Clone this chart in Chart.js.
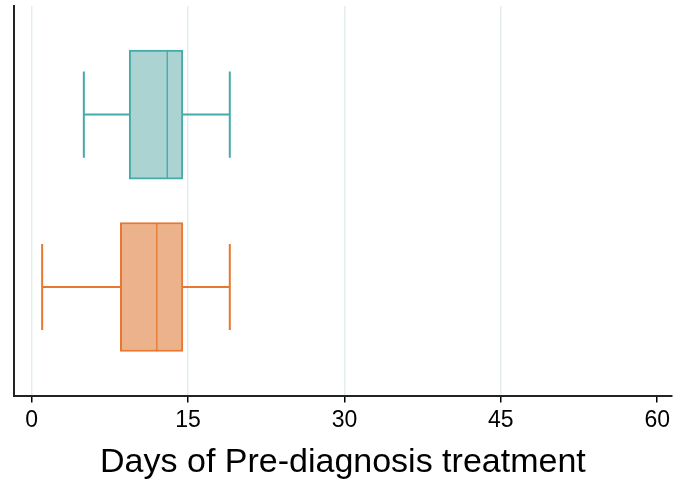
<!DOCTYPE html>
<html>
<head>
<meta charset="utf-8">
<script src="https://cdn.jsdelivr.net/npm/chart.js@4/dist/chart.umd.min.js"></script>
<style>
  html, body { margin: 0; padding: 0; background: #fff; }
  canvas { display: block; }
</style>
</head>
<body>
<canvas id="boxChart" width="674" height="484"></canvas>
<script>
// two groups, top (teal) and bottom (orange)
var groupPos = [2, 1];
var whiskerLow = [5, 1];
var q1 = [9.35, 8.5];
var median = [13, 12];
var q3 = [14.5, 14.5];
var whiskerHigh = [19, 19];
var tickValues = [0, 15, 30, 45, 60];

var fills = ["#aad3d2", "#ecb28c"];
var strokes = ["#45abaa", "#e8782f"];

var datasets = [];

// box halves: q1 -> median, median -> q3 (inner edges thinner so the median line is not doubled)
datasets.push({
    type: 'bar',
    data: groupPos.map(function (y, i) { return { y: y, x: [q1[i], median[i]] }; }),
    backgroundColor: fills,
    borderColor: strokes,
    borderWidth: { left: 2, top: 2, bottom: 2, right: 1 },
    borderSkipped: false,
    barThickness: 129,
    grouped: false
});
datasets.push({
    type: 'bar',
    data: groupPos.map(function (y, i) { return { y: y, x: [median[i], q3[i]] }; }),
    backgroundColor: fills,
    borderColor: strokes,
    borderWidth: { left: 1, top: 2, bottom: 2, right: 2 },
    borderSkipped: false,
    barThickness: 129,
    grouped: false
});

// whiskers and caps
groupPos.forEach(function (y, i) {
    var segs = [
        [{ x: whiskerLow[i], y: y }, { x: q1[i], y: y }],
        [{ x: q3[i], y: y }, { x: whiskerHigh[i], y: y }],
        [{ x: whiskerLow[i], y: y - 0.25 }, { x: whiskerLow[i], y: y + 0.25 }],
        [{ x: whiskerHigh[i], y: y - 0.25 }, { x: whiskerHigh[i], y: y + 0.25 }]
    ];
    segs.forEach(function (s) {
        datasets.push({
            type: 'line',
            data: s,
            borderColor: strokes[i],
            borderWidth: 2,
            pointRadius: 0,
            fill: false
        });
    });
});

var chart = new Chart(document.getElementById("boxChart"), {
    type: 'bar',
    data: { datasets: datasets },
    options: {
        indexAxis: 'y',
        responsive: false,
        animation: false,
        layout: { padding: { top: 6, left: 14, right: 0, bottom: 1 } },
        plugins: {
            legend: { display: false },
            tooltip: { enabled: false }
        },
        scales: {
            x: {
                type: 'linear',
                min: -1.7,
                max: 61.4,
                afterBuildTicks: function (scale) {
                    scale.ticks = tickValues.map(function (v) { return { value: v }; });
                },
                grid: {
                    color: function (ctx) { return ctx.tick && ctx.tick.value === 60 ? 'rgba(0,0,0,0)' : '#e4eef0'; },
                    lineWidth: 1.5,
                    tickColor: '#000',
                    tickLength: 7,
                    tickWidth: 1.5
                },
                border: { color: '#222', width: 2 },
                ticks: {
                    color: '#000',
                    padding: 4,
                    maxRotation: 0,
                    font: { family: "'Liberation Sans', Arial, sans-serif", size: 23 }
                },
                title: {
                    display: true,
                    text: 'Days of Pre-diagnosis treatment',
                    color: '#000',
                    padding: { top: 4, bottom: 0 },
                    font: { family: "'Liberation Sans', Arial, sans-serif", size: 34 }
                }
            },
            y: {
                type: 'linear',
                offset: false,
                min: 0.37,
                max: 2.63,
                grid: { display: false, drawTicks: false },
                border: { display: true, color: '#222', width: 2 },
                ticks: { display: false }
            }
        }
    }
});
</script>
</body>
</html>
